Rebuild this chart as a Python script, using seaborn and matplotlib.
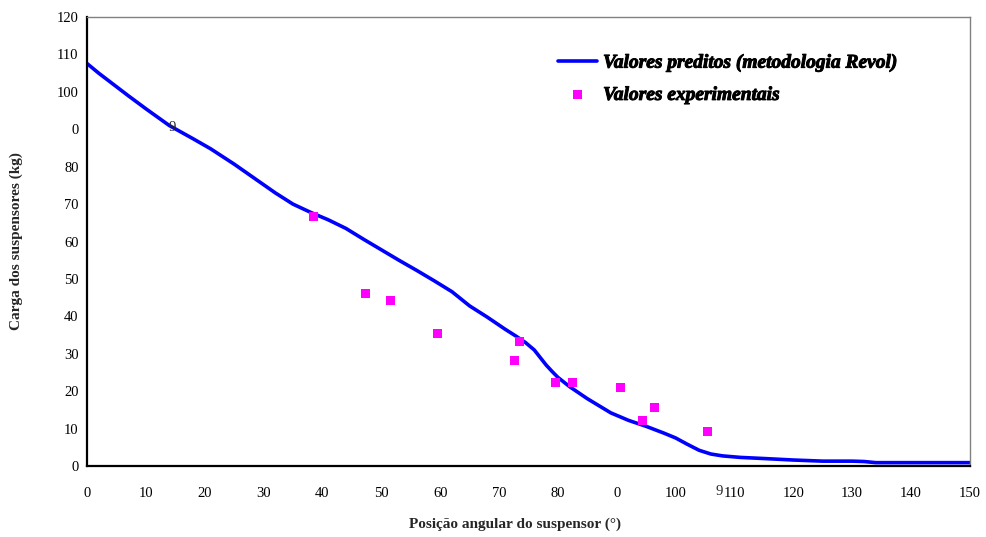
import matplotlib
matplotlib.use("Agg")
import matplotlib.pyplot as plt
import matplotlib.transforms as mtransforms
import matplotlib.patheffects as pe
import seaborn as sns
import pandas as pd

# Predicted curve (Revol methodology)
pred_x = [0, 2, 4, 7, 10, 14, 18, 21, 25, 28, 32, 35, 38, 41, 44, 47, 50, 53, 56, 59,
          62, 65, 68, 71, 73, 74.5, 76, 77, 78, 79, 80, 82, 85, 89, 92, 95, 98, 100,
          102, 104, 106, 108, 111, 115, 120, 125, 130, 132, 134, 140, 145, 150]
pred_y = [107.6, 105, 102.6, 99, 95.5, 91, 87.5, 84.8, 80.7, 77.4, 73, 70, 67.8, 65.8,
          63.5, 60.6, 57.8, 55, 52.3, 49.5, 46.6, 42.8, 39.8, 36.6, 34.6, 33.0, 31.0,
          29.0, 27.0, 25.3, 23.7, 21.2, 18.0, 14.2, 12.2, 10.6, 8.8, 7.5, 5.8, 4.2,
          3.2, 2.7, 2.3, 2.0, 1.6, 1.3, 1.3, 1.2, 0.9, 0.9, 0.9, 0.9]

# Experimental values
exp_x = [38.4, 47.4, 51.5, 59.5, 72.6, 73.5, 79.6, 82.5, 90.6, 94.4, 96.4, 105.4]
exp_y = [66.6, 46.0, 44.3, 35.5, 28.3, 33.3, 22.3, 22.3, 20.9, 12.1, 15.6, 9.2]

x_ticks = [0, 10, 20, 30, 40, 50, 60, 70, 80, 90, 100, 110, 120, 130, 140, 150]
x_tick_labels = ["0", "10", "20", "30", "40", "50", "60", "70", "80", "0", "100",
                 "110", "120", "130", "140", "150"]
y_ticks = [0, 10, 20, 30, 40, 50, 60, 70, 80, 90, 100, 110, 120]
y_tick_labels = ["0", "10", "20", "30", "40", "50", "60", "70", "80", "0", "100",
                 "110", "120"]

label_pred = "Valores preditos (metodologia Revol)"
label_exp = "Valores experimentais"

sns.set_style("white")
plt.rcParams["font.family"] = ["Liberation Serif", "DejaVu Serif"]

df_pred = pd.DataFrame({"x": pred_x, "y": pred_y})
df_exp = pd.DataFrame({"x": exp_x, "y": exp_y})

fig = plt.figure(figsize=(9.86, 5.37), dpi=100)
ax = fig.add_axes([0.0882, 0.1322, 0.8955, 0.836])

sns.lineplot(data=df_pred, x="x", y="y", ax=ax, color="#0000FF", linewidth=2.6,
             label=label_pred, sort=False)
sns.scatterplot(data=df_exp, x="x", y="y", ax=ax, color="#FF00FF", marker="s",
                s=42, edgecolor="none", label=label_exp, zorder=3)

ax.set_xlim(0, 150)
ax.set_ylim(0, 120)
ax.set_xticks(x_ticks)
ax.set_xticklabels(x_tick_labels)
ax.set_yticks(y_ticks)
ax.set_yticklabels(y_tick_labels)
ax.tick_params(axis="both", direction="in", length=4, width=1, labelsize=10.5,
               colors="black")
ax.tick_params(axis="x", pad=15)
ax.tick_params(axis="y", pad=6)

for s in ["left", "bottom"]:
    ax.spines[s].set_color("black")
    ax.spines[s].set_linewidth(1.6)
for s in ["top", "right"]:
    ax.spines[s].set_color("#808080")
    ax.spines[s].set_linewidth(1.0)

ax.set_xlabel("Posição angular do suspensor (°)", fontsize=11, fontweight="bold")
ax.set_ylabel("Carga dos suspensores (kg)", fontsize=11, fontweight="bold")
ax.xaxis.set_label_coords(0.485, -0.115)
ax.yaxis.set_label_coords(-0.072, 0.5)

# Stray glyphs from the original rendering
ax.text(14.4, 90.5, "9", fontsize=10.5, ha="center", va="center", zorder=4)
trans = mtransforms.blended_transform_factory(ax.transData, ax.transAxes)
ax.text(107.4, -0.057, "9", fontsize=10.5, ha="center", va="center",
        transform=trans, clip_on=False)

leg = ax.legend(loc="upper left", bbox_to_anchor=(0.525, 0.935), frameon=False,
                handlelength=2.0, handletextpad=0.3, labelspacing=0.75,
                borderaxespad=0,
                prop={"family": "Liberation Serif", "size": 14,
                      "weight": "bold", "style": "italic"})
for t in leg.get_texts():
    t.set_fontweight("bold")
    t.set_fontstyle("italic")
    t.set_color("black")
    t.set_path_effects([pe.withStroke(linewidth=0.7, foreground="black")])

fig.savefig("out.png", dpi=100)
